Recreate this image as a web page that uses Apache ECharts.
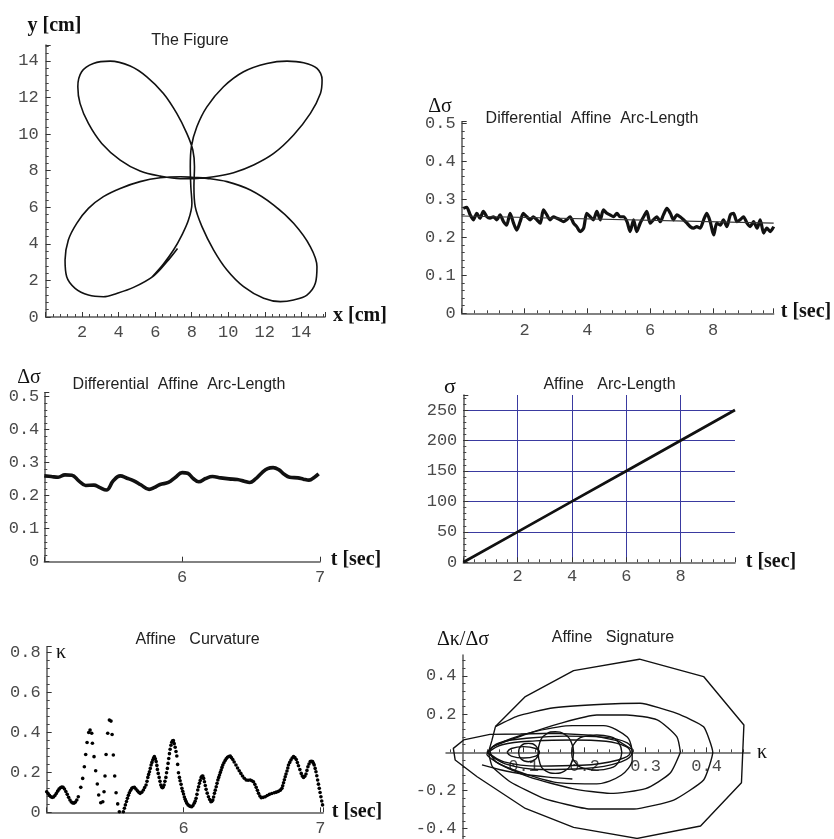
<!DOCTYPE html>
<html><head><meta charset="utf-8">
<script src="https://cdn.jsdelivr.net/npm/echarts@6/dist/echarts.min.js"></script>
<style>html,body{margin:0;padding:0;background:#fff}#c{width:834px;height:839px}</style>
</head><body><div id="c"></div>
<script>
// ---------- Panel 1: the figure (x [cm], y [cm]) ----------
const figureCurve = [
[7.22,3.75],[6.64,3.02],[5.90,2.24],
[4.81,1.62],[3.89,1.29],[3.16,1.11],[2.34,1.20],[1.61,1.57],[1.15,2.20],[1.06,3.11],[1.24,4.21],[1.70,5.12],[2.34,5.94],[3.16,6.58],[4.08,7.03],[5.17,7.40],[6.27,7.61],[7.37,7.67],[8.10,7.63],
[8.83,7.58],[9.93,7.40],[11.21,6.94],[12.49,6.12],[13.58,5.12],[14.50,3.84],[14.86,2.75],[14.77,1.84],[14.31,1.20],[13.58,0.93],[12.85,0.84],[11.94,1.02],[10.84,1.66],[9.93,2.57],[9.20,3.66],[8.56,4.94],[8.19,6.03],[8.12,7.12],[8.15,8.21],[8.06,9.13],
[7.73,10.04],[7.18,11.13],[6.45,12.22],[5.54,13.13],[4.63,13.72],[3.53,13.99],[2.61,13.86],[1.97,13.41],[1.76,12.59],[1.88,11.68],[2.34,10.58],[3.07,9.49],[4.08,8.58],[5.17,7.98],[6.27,7.70],[7.37,7.56],[8.28,7.58],
[9.20,7.67],[10.29,7.89],[11.39,8.31],[12.49,8.94],[13.58,9.95],[14.50,11.13],[15.05,12.22],[15.14,12.95],[14.86,13.59],[14.13,13.90],[13.22,13.99],[12.12,13.86],[10.84,13.41],[9.74,12.59],[8.83,11.49],[8.28,10.40],[7.98,9.31],[7.92,8.21],[7.95,7.12],[8.01,6.21],
[7.82,5.30],[7.46,4.48],[7.00,3.66],[6.45,2.90],[5.81,2.17]
];

// ---------- Panel 2: differential affine arc-length over full record ----------
const noiseT = [0.05,0.16,0.27,0.37,0.48,0.58,0.69,0.80,0.90,1.01,1.12,1.22,1.33,1.43,1.54,1.65,1.75,1.86,1.96,2.07,2.18,2.28,2.39,2.50,2.60,2.71,2.81,2.92,3.03,3.13,3.24,3.34,3.45,3.56,3.66,3.77,3.88,3.98,4.09,4.19,4.30,4.41,4.51,4.62,4.72,4.83,4.94,5.04,5.15,5.26,5.36,5.47,5.57,5.68,5.79,5.89,6.00,6.10,6.21,6.32,6.42,6.53,6.64,6.74,6.85,6.95,7.06,7.17,7.27,7.38,7.48,7.59,7.70,7.80,7.91,8.02,8.12,8.23,8.33,8.44,8.55,8.65,8.76,8.86,8.97,9.08,9.18,9.29,9.40,9.50,9.61,9.71,9.82,9.93];
const noiseV = [0.276,0.279,0.259,0.246,0.263,0.250,0.268,0.254,0.250,0.254,0.246,0.259,0.241,0.232,0.263,0.237,0.219,0.241,0.263,0.254,0.246,0.254,0.246,0.237,0.272,0.259,0.246,0.254,0.250,0.246,0.241,0.246,0.254,0.237,0.228,0.215,0.224,0.263,0.254,0.246,0.268,0.246,0.272,0.263,0.259,0.254,0.263,0.254,0.254,0.241,0.215,0.246,0.215,0.237,0.254,0.268,0.237,0.246,0.254,0.241,0.259,0.276,0.263,0.246,0.259,0.254,0.246,0.237,0.228,0.224,0.228,0.224,0.246,0.263,0.241,0.206,0.237,0.232,0.246,0.228,0.259,0.263,0.241,0.246,0.254,0.237,0.228,0.241,0.224,0.246,0.211,0.224,0.215,0.228];
const trendT = [0, 9.93];
const trendV = [0.256, 0.237];

// ---------- Panel 3: differential affine arc-length, t in [5,7] ----------
const zoomT = [5.00,5.05,5.10,5.15,5.20,5.25,5.30,5.36,5.40,5.45,5.50,5.55,5.60,5.65,5.70,5.76,5.80,5.84,5.90,5.95,6.00,6.04,6.08,6.12,6.17,6.22,6.28,6.34,6.40,6.45,6.49,6.53,6.58,6.62,6.66,6.70,6.74,6.78,6.84,6.88,6.92,6.96,6.99];
const zoomV = [0.260,0.258,0.256,0.263,0.262,0.245,0.231,0.232,0.225,0.217,0.245,0.260,0.253,0.245,0.233,0.219,0.225,0.234,0.240,0.255,0.270,0.268,0.252,0.242,0.252,0.258,0.254,0.251,0.249,0.244,0.240,0.250,0.270,0.282,0.285,0.279,0.265,0.256,0.254,0.250,0.247,0.256,0.266];

// ---------- Panel 4: affine arc-length ----------
const arcT = [0, 2, 4, 6, 8, 10];
const arcS = [0, 50, 100, 150, 200, 250];

// ---------- Panel 5: affine curvature (sampled points) ----------
const curvDots = [
[5.00,0.103],[5.01,0.094],[5.02,0.085],[5.03,0.078],[5.04,0.075],[5.05,0.077],[5.06,0.084],[5.07,0.094],[5.08,0.106],[5.09,0.116],[5.10,0.123],[5.11,0.126],[5.12,0.125],[5.13,0.117],[5.14,0.104],[5.15,0.090],[5.16,0.075],[5.17,0.062],[5.18,0.052],[5.19,0.047],[5.20,0.046],[5.21,0.051],[5.22,0.062],
[5.231,0.078],[5.249,0.125],[5.263,0.170],[5.275,0.228],[5.285,0.290],[5.295,0.350],[5.307,0.400],[5.317,0.412],[5.329,0.396],[5.334,0.346],[5.346,0.279],[5.358,0.208],[5.370,0.142],[5.380,0.087],[5.395,0.048],[5.41,0.053],[5.419,0.103],[5.426,0.182],[5.434,0.290],[5.446,0.396],[5.458,0.462],[5.47,0.457],[5.478,0.390],[5.487,0.287],[5.497,0.182],[5.507,0.098],[5.519,0.042],[5.531,0.003],[5.54,-0.008],[5.549,-0.013],[5.56,0.003],[5.568,0.02],[5.575,0.037],[5.583,0.054],[5.59,0.070],[5.597,0.085],[5.604,0.098],[5.613,0.110],[5.622,0.120],[5.631,0.124],[5.641,0.125],[5.652,0.117],[5.663,0.108],[5.673,0.100],[5.683,0.095],[5.695,0.101],[5.707,0.112],[5.716,0.124],[5.726,0.137],[5.733,0.155],[5.739,0.175],[5.745,0.19],[5.751,0.203],[5.757,0.22],[5.763,0.237],[5.769,0.25],[5.775,0.262],[5.781,0.272],[5.787,0.279],[5.794,0.268],[5.80,0.254],[5.805,0.235],[5.809,0.215],[5.815,0.195],[5.822,0.175],[5.828,0.155],[5.834,0.137],[5.840,0.127],[5.846,0.123],[5.852,0.127],[5.858,0.137],[5.864,0.155],[5.871,0.175],[5.876,0.198],[5.882,0.220],[5.887,0.245],[5.892,0.270],[5.897,0.294],[5.902,0.316],[5.908,0.336],[5.914,0.351],[5.920,0.358],[5.926,0.359],[5.932,0.344],[5.939,0.326],[5.945,0.305],[5.951,0.282],[5.957,0.24],[5.963,0.198],[5.97,0.175],[5.975,0.158],[5.982,0.14],[5.988,0.120],[5.994,0.105],[6.0,0.092],[6.006,0.077],[6.012,0.065],[6.018,0.055],[6.024,0.045],[6.033,0.037],[6.043,0.032],[6.052,0.029],[6.06,0.028],[6.069,0.034],[6.078,0.045],[6.085,0.056],[6.092,0.070],[6.098,0.090],[6.104,0.112],[6.110,0.128],[6.116,0.145],[6.122,0.160],[6.129,0.175],[6.135,0.181],[6.141,0.182],[6.147,0.170],[6.153,0.153],[6.159,0.134],[6.165,0.115],[6.173,0.096],[6.182,0.078],[6.191,0.064],[6.2,0.053],[6.207,0.055],[6.214,0.062],[6.220,0.077],[6.226,0.095],[6.232,0.111],[6.239,0.128],[6.245,0.145],[6.251,0.162],[6.257,0.175],[6.263,0.187],[6.269,0.200],[6.275,0.212],[6.281,0.225],[6.287,0.237],[6.295,0.248],[6.304,0.259],[6.312,0.268],[6.321,0.276],[6.331,0.280],[6.341,0.282],[6.35,0.274],[6.36,0.265],[6.37,0.252],[6.383,0.237],[6.395,0.222],[6.407,0.208],[6.419,0.195],[6.431,0.182],[6.444,0.171],[6.458,0.162],[6.472,0.161],[6.487,0.162],[6.499,0.158],[6.511,0.153],[6.521,0.140],[6.531,0.125],[6.54,0.110],[6.548,0.095],[6.558,0.082],[6.568,0.073],[6.582,0.075],[6.597,0.078],[6.612,0.084],[6.628,0.090],[6.645,0.094],[6.663,0.098],[6.678,0.101],[6.694,0.105],[6.707,0.111],[6.719,0.120],[6.725,0.133],[6.731,0.148],[6.737,0.163],[6.743,0.178],[6.749,0.192],[6.756,0.207],[6.762,0.222],[6.767,0.237],[6.776,0.250],[6.785,0.262],[6.794,0.272],[6.804,0.279],[6.814,0.274],[6.824,0.265],[6.832,0.249],[6.84,0.233],[6.85,0.214],[6.86,0.195],[6.868,0.182],[6.877,0.175],[6.886,0.181],[6.895,0.192],[6.902,0.210],[6.909,0.228],[6.917,0.242],[6.926,0.254],[6.934,0.256],[6.943,0.254],[6.949,0.246],[6.955,0.237],[6.962,0.220],[6.968,0.203],[6.974,0.183],[6.98,0.162],[6.986,0.141],[6.992,0.120],[6.998,0.099],[7.004,0.078],[7.010,0.057],[7.016,0.037]
];

// ---------- Panel 6: affine signature (kappa, dkappa/dsigma) ----------
const sigOuter = [[0.054,0.135],[0.103,0.292],[0.182,0.428],[0.290,0.488],[0.395,0.397],[0.461,0.143],[0.457,-0.159],[0.390,-0.386],[0.286,-0.451],[0.182,-0.393],[0.103,-0.294],[0.024,-0.128],[-0.012,-0.040],[-0.015,0.021],[0.002,0.065],[0.045,0.094],[0.095,0.096],[0.150,0.100],[0.210,0.090],[0.255,0.060],[0.278,0.015]];
const sigLoopB = [[0.054,0.135],[0.048,0.060],[0.043,0.000],[0.049,-0.075],[0.078,-0.154],[0.133,-0.241],[0.209,-0.297],[0.281,-0.297],[0.346,-0.250],[0.395,-0.145],[0.410,0.000],[0.395,0.134],[0.351,0.204],[0.291,0.257],[0.231,0.252],[0.144,0.231],[0.090,0.190],[0.054,0.135]];
const sigLoopC = [[0.357,0.000],[0.351,0.082],[0.319,0.170],[0.269,0.196],[0.220,0.196],[0.160,0.152],[0.100,0.090],[0.050,0.030],[0.040,-0.010],[0.060,-0.060],[0.110,-0.130],[0.180,-0.190],[0.242,-0.215],[0.300,-0.190],[0.340,-0.110],[0.357,0.000]];
const sigLoopD = [[0.278,0.010],[0.270,0.080],[0.231,0.140],[0.180,0.140],[0.120,0.110],[0.070,0.060],[0.045,0.010],[0.055,-0.050],[0.100,-0.110],[0.160,-0.160],[0.220,-0.165],[0.260,-0.120],[0.278,-0.040],[0.278,0.010]];
const sigLoopE = [[0.040,0.000],[0.060,0.050],[0.110,0.075],[0.170,0.085],[0.230,0.080],[0.270,0.050],[0.278,0.000],[0.260,-0.050],[0.200,-0.085],[0.130,-0.090],[0.070,-0.060],[0.040,0.000]];
const sigLoopF = [[0.042,0.000],[0.065,0.040],[0.120,0.060],[0.180,0.065],[0.235,0.058],[0.268,0.030],[0.275,0.000],[0.255,-0.040],[0.195,-0.068],[0.125,-0.072],[0.068,-0.050],[0.042,0.000]];
const sigCircle1 = [[0.182,0.000],[0.178,0.055],[0.167,0.095],[0.152,0.108],[0.137,0.095],[0.127,0.055],[0.124,0.000],[0.127,-0.060],[0.137,-0.098],[0.152,-0.110],[0.167,-0.098],[0.178,-0.060],[0.182,0.000]];
const sigCircle2 = [[0.261,0.000],[0.256,0.050],[0.242,0.082],[0.220,0.091],[0.198,0.082],[0.184,0.050],[0.179,0.000],[0.184,-0.050],[0.198,-0.083],[0.220,-0.093],[0.242,-0.083],[0.256,-0.050],[0.261,0.000]];
const sigCircle3 = [[0.125,0.000],[0.120,0.035],[0.108,0.047],[0.096,0.035],[0.092,0.000],[0.096,-0.035],[0.108,-0.049],[0.120,-0.035],[0.125,0.000]];
const sigLoopSmall = [[0.073,0.000],[0.080,0.020],[0.100,0.030],[0.120,0.020],[0.126,0.000],[0.120,-0.020],[0.100,-0.030],[0.080,-0.020],[0.073,0.000]];
const sigTail = [[0.032,-0.066],[0.060,-0.090],[0.100,-0.115],[0.140,-0.130],[0.180,-0.140]];
const sigKappaTicks = [0.1, 0.2, 0.3, 0.4];
const sigSlopeTicks = [-0.4, -0.2, 0.2, 0.4];

// ---------- helpers ----------
const MONO = '"Liberation Mono", "DejaVu Sans Mono", monospace';
const SERIF = '"Liberation Serif", "DejaVu Serif", serif';
const SANS = '"Liberation Sans", Arial, sans-serif';

function fmt(step, dec, hide) {
  return function (v) {
    const q = v / step;
    if (Math.abs(q - Math.round(q)) > 1e-6) return '';
    const r = Math.round(q) * step;
    for (const h of hide) if (Math.abs(r - h) < 1e-9) return '';
    if (Math.abs(r) < 1e-12) return '0';
    return dec ? r.toFixed(dec) : String(Math.round(r));
  };
}
function axis(kind, gi, o) {
  const a = {
    type: 'value', gridIndex: gi, min: o.min, max: o.max,
    position: kind === 'x' ? 'bottom' : 'left',
    offset: o.offset || 0,
    axisLine: { show: true, onZero: false, lineStyle: { color: '#5a5a5a', width: 1.5 } },
    axisTick: { show: true, inside: true, length: 5, lineStyle: { color: '#333', width: 1 } },
    minorTick: { show: o.minor !== false, splitNumber: o.minorSplit || 5, length: 3, lineStyle: { color: '#444', width: 1 } },
    axisLabel: { show: true, margin: o.margin || 6, fontFamily: MONO, fontSize: 17, color: '#4a4a4a',
      formatter: fmt(o.step, o.dec, o.hide || []) },
    splitLine: { show: false }
  };
  if (o.interval) a.interval = o.interval; else a.splitNumber = o.splitNumber || 5;
  if (o.custom) { a.axisTick.customValues = o.custom; a.axisLabel.customValues = o.custom; }
  if (o.split) a.splitLine = { show: true, showMaxLine: false, showMinLine: false, lineStyle: { color: '#3a3aa0', width: 1 } };
  return a;
}
function txt(x, y, text, font, color) {
  return { type: 'text', x: x, y: y, z: 100, silent: true,
    style: { text: text, font: font, fill: color || '#111', align: 'center', verticalAlign: 'middle' } };
}
const pairs = (a, b) => a.map((v, i) => [v, b[i]]);
function sigSeries(d, smooth) {
  return { type: 'line', xAxisIndex: 5, yAxisIndex: 5, data: d, showSymbol: false, symbol: 'none',
    smooth: smooth, lineStyle: { color: '#111', width: 1.4 }, silent: true };
}

// panel 6 geometry: axes cross at the origin inside the plot box
const g6 = { left: 446, top: 655, width: 304, height: 184 };
const k6 = { min: -0.027, max: 0.471 }, s6 = { min: -0.454, max: 0.51 };
const xOff6 = -(g6.height * (0 - s6.min) / (s6.max - s6.min));   // move x axis up to slope = 0
const yOff6 = -(g6.width * (0 - k6.min) / (k6.max - k6.min));    // move y axis right to kappa = 0

const chart = echarts.init(document.getElementById('c'), null, { renderer: 'canvas' });
const option = {
  animation: false,
  backgroundColor: '#fff',
  grid: [
    { left: 45.7, top: 45, width: 279.3, height: 272, outerBoundsMode: 'none', containLabel: false },
    { left: 461.7, top: 121.7, width: 312, height: 191.6, outerBoundsMode: 'none', containLabel: false },
    { left: 44.3, top: 392.7, width: 275.7, height: 169, outerBoundsMode: 'none', containLabel: false },
    { left: 463.3, top: 395, width: 271.7, height: 167.3, outerBoundsMode: 'none', containLabel: false },
    { left: 46.7, top: 646.7, width: 276.4, height: 165.6, outerBoundsMode: 'none', containLabel: false },
    Object.assign({ outerBoundsMode: 'none', containLabel: false }, g6)
  ],
  xAxis: [
    axis('x', 0, { min: 0, max: 15.3, interval: 2, step: 2, dec: 0, hide: [0], margin: 7 }),
    axis('x', 1, { min: 0, max: 9.93, interval: 2, step: 2, dec: 0, hide: [0], margin: 9 }),
    axis('x', 2, { min: 5, max: 7, interval: 1, step: 1, dec: 0, hide: [5], minor: false, margin: 7 }),
    axis('x', 3, { min: 0, max: 10, interval: 2, step: 2, dec: 0, hide: [0, 10], split: true, margin: 6 }),
    axis('x', 4, { min: 5, max: 7.02, interval: 1, step: 1, dec: 0, hide: [5], minor: false, margin: 8 }),
    axis('x', 5, { min: k6.min, max: k6.max, splitNumber: 5, step: 0.1, dec: 1, hide: [0], margin: 6, custom: sigKappaTicks, offset: xOff6 })
  ],
  yAxis: [
    axis('y', 0, { min: 0, max: 14.87, interval: 2, step: 2, dec: 0, margin: 7 }),
    axis('y', 1, { min: 0, max: 0.504, interval: 0.1, step: 0.1, dec: 1, margin: 6 }),
    axis('y', 2, { min: 0, max: 0.512, interval: 0.1, step: 0.1, dec: 1, margin: 5 }),
    axis('y', 3, { min: 0, max: 274.7, interval: 50, step: 50, dec: 0, split: true, margin: 6 }),
    axis('y', 4, { min: 0, max: 0.83, interval: 0.2, step: 0.2, dec: 1, margin: 6 }),
    axis('y', 5, { min: s6.min, max: s6.max, splitNumber: 5, step: 0.2, dec: 1, hide: [0], margin: 6, custom: sigSlopeTicks, offset: yOff6 })
  ],
  series: [
    { type: 'line', xAxisIndex: 0, yAxisIndex: 0, data: figureCurve, showSymbol: false, symbol: 'none',
      smooth: 0.35, lineStyle: { color: '#111', width: 1.6 } },
    { type: 'line', xAxisIndex: 1, yAxisIndex: 1, data: pairs(noiseT, noiseV), showSymbol: false, symbol: 'none',
      smooth: 0.25, lineStyle: { color: '#111', width: 3.2 } },
    { type: 'line', xAxisIndex: 1, yAxisIndex: 1, data: pairs(trendT, trendV), showSymbol: false, symbol: 'none',
      lineStyle: { color: '#333', width: 1.2 }, z: 3 },
    { type: 'line', xAxisIndex: 2, yAxisIndex: 2, data: pairs(zoomT, zoomV), showSymbol: false, symbol: 'none',
      smooth: 0.4, lineStyle: { color: '#111', width: 3.6 } },
    { type: 'line', xAxisIndex: 3, yAxisIndex: 3, data: pairs(arcT, arcS), showSymbol: false, symbol: 'none',
      lineStyle: { color: '#111', width: 2.8 }, z: 5 },
    { type: 'scatter', xAxisIndex: 4, yAxisIndex: 4, data: curvDots, symbol: 'circle', symbolSize: 3.6,
      itemStyle: { color: '#000', opacity: 1 }, silent: true },
    sigSeries(sigOuter, false),
    sigSeries(sigLoopB, 0.15),
    sigSeries(sigLoopC, 0.2),
    sigSeries(sigLoopD, 0.3),
    sigSeries(sigLoopE, 0.4),
    sigSeries(sigLoopF, 0.4),
    sigSeries(sigCircle1, 0.5),
    sigSeries(sigCircle2, 0.5),
    sigSeries(sigCircle3, 0.5),
    sigSeries(sigLoopSmall, 0.5),
    sigSeries(sigTail, 0.3)
  ],
  graphic: [
    txt(54.5, 26, 'y [cm]', 'bold 20px ' + SERIF),
    txt(190, 41, 'The Figure', '16px ' + SANS, '#222'),
    txt(360, 316, 'x [cm]', 'bold 20px ' + SERIF),
    txt(440, 107, 'Δσ', '20px ' + SERIF),
    txt(592, 119, 'Differential  Affine  Arc-Length', '16px ' + SANS, '#222'),
    txt(806, 312, 't [sec]', 'bold 20px ' + SERIF),
    txt(29, 378, 'Δσ', '20px ' + SERIF),
    txt(179, 385, 'Differential  Affine  Arc-Length', '16px ' + SANS, '#222'),
    txt(356, 560, 't [sec]', 'bold 20px ' + SERIF),
    txt(450, 387, 'σ', '22px ' + SERIF),
    txt(609.5, 385, 'Affine   Arc-Length', '16px ' + SANS, '#222'),
    txt(771, 562, 't [sec]', 'bold 20px ' + SERIF),
    txt(61, 653, 'κ', '20px ' + SERIF),
    txt(197.5, 640, 'Affine   Curvature', '16px ' + SANS, '#222'),
    txt(357, 812, 't [sec]', 'bold 20px ' + SERIF),
    txt(463, 640, 'Δκ/Δσ', '20px ' + SERIF),
    txt(613, 638, 'Affine   Signature', '16px ' + SANS, '#222'),
    txt(762, 753, 'κ', '20px ' + SERIF)
  ]
};
chart.setOption(option);
</script></body></html>
